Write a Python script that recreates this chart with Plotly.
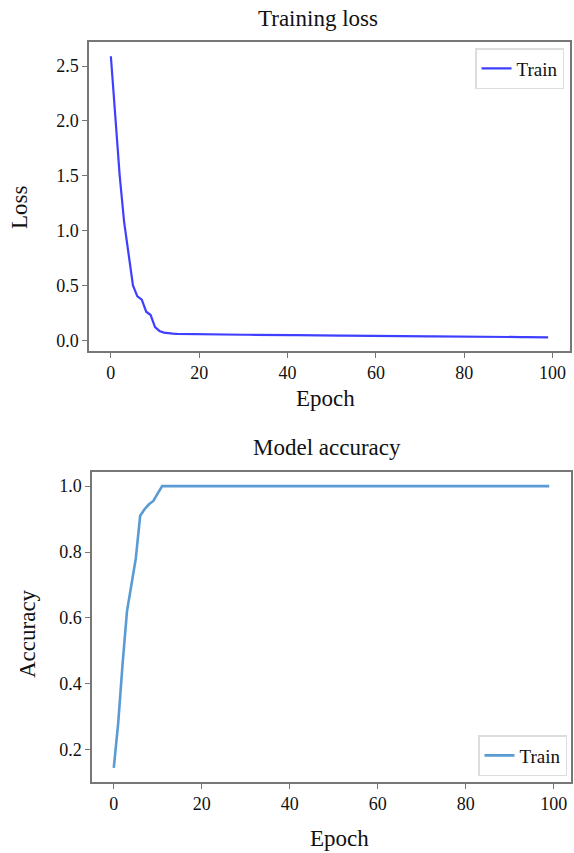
import plotly.graph_objects as go

epochs = list(range(100))

train_loss = [
    2.59, 2.07, 1.50, 1.08, 0.80, 0.50, 0.40, 0.37, 0.26, 0.23,
    0.12, 0.085, 0.070, 0.064, 0.061, 0.059, 0.058, 0.057, 0.056, 0.055,
    0.055, 0.055, 0.054, 0.054, 0.053, 0.053, 0.052, 0.052, 0.051, 0.051,
    0.050, 0.050, 0.049, 0.049, 0.049, 0.048, 0.048, 0.047, 0.047, 0.047,
    0.046, 0.046, 0.046, 0.045, 0.045, 0.045, 0.044, 0.044, 0.044, 0.043,
    0.043, 0.043, 0.042, 0.042, 0.042, 0.041, 0.041, 0.041, 0.040, 0.040,
    0.040, 0.039, 0.039, 0.039, 0.038, 0.038, 0.038, 0.037, 0.037, 0.037,
    0.036, 0.036, 0.036, 0.035, 0.035, 0.035, 0.034, 0.034, 0.034, 0.033,
    0.033, 0.033, 0.032, 0.032, 0.032, 0.031, 0.031, 0.031, 0.030, 0.030,
    0.030, 0.029, 0.029, 0.029, 0.028, 0.028, 0.028, 0.027, 0.027, 0.027,
]

train_acc = [
    0.145, 0.28, 0.46, 0.62, 0.70, 0.78, 0.91, 0.93, 0.945, 0.955,
    0.978, 1.0, 1.0, 1.0, 1.0, 1.0, 1.0, 1.0, 1.0, 1.0,
    1.0, 1.0, 1.0, 1.0, 1.0, 1.0, 1.0, 1.0, 1.0, 1.0,
    1.0, 1.0, 1.0, 1.0, 1.0, 1.0, 1.0, 1.0, 1.0, 1.0,
    1.0, 1.0, 1.0, 1.0, 1.0, 1.0, 1.0, 1.0, 1.0, 1.0,
    1.0, 1.0, 1.0, 1.0, 1.0, 1.0, 1.0, 1.0, 1.0, 1.0,
    1.0, 1.0, 1.0, 1.0, 1.0, 1.0, 1.0, 1.0, 1.0, 1.0,
    1.0, 1.0, 1.0, 1.0, 1.0, 1.0, 1.0, 1.0, 1.0, 1.0,
    1.0, 1.0, 1.0, 1.0, 1.0, 1.0, 1.0, 1.0, 1.0, 1.0,
    1.0, 1.0, 1.0, 1.0, 1.0, 1.0, 1.0, 1.0, 1.0, 1.0,
]

x_ticks = [0, 20, 40, 60, 80, 100]
loss_ticks = [0.0, 0.5, 1.0, 1.5, 2.0, 2.5]
acc_ticks = [0.2, 0.4, 0.6, 0.8, 1.0]

W, H = 574, 853
FONT = "Liberation Serif"

fig = go.Figure()
fig.add_trace(go.Scatter(x=epochs, y=train_loss, mode="lines", name="Train",
                         line=dict(color="#3f3fff", width=2.2),
                         xaxis="x", yaxis="y", legend="legend"))
fig.add_trace(go.Scatter(x=epochs, y=train_acc, mode="lines", name="Train",
                         line=dict(color="#5b9bd5", width=2.6),
                         xaxis="x2", yaxis="y2", legend="legend2"))

axstyle = dict(showline=True, mirror=True, linecolor="#777777", linewidth=1.5,
               ticks="outside", ticklen=5, tickwidth=1.2, tickcolor="#777777",
               showgrid=False, zeroline=False,
               tickfont=dict(family=FONT, size=18, color="#111111"))

fig.update_layout(
    width=W, height=H,
    margin=dict(l=0, r=0, t=0, b=0),
    paper_bgcolor="white", plot_bgcolor="white",
    font=dict(family=FONT, size=18, color="#111111"),
    xaxis=dict(domain=[89 / W, 570 / W], anchor="y", range=[-4.95, 103.95],
               tickvals=x_ticks, **axstyle),
    yaxis=dict(domain=[1 - 351 / H, 1 - 42 / H], anchor="x", range=[-0.098, 2.72],
               tickvals=loss_ticks, tickformat=".1f", **axstyle),
    xaxis2=dict(domain=[92 / W, 571 / W], anchor="y2", range=[-4.95, 103.95],
                tickvals=x_ticks, **axstyle),
    yaxis2=dict(domain=[1 - 782 / H, 1 - 472 / H], anchor="x2", range=[0.102, 1.043],
                tickvals=acc_ticks, tickformat=".1f", **axstyle),
    legend=dict(x=564 / W, y=1 - 48 / H, xanchor="right", yanchor="top",
                bgcolor="white", bordercolor="#dddddd", borderwidth=1.5,
                itemwidth=30, font=dict(family=FONT, size=19, color="#111111")),
    legend2=dict(x=567 / W, y=1 - 776 / H, xanchor="right", yanchor="bottom",
                 bgcolor="white", bordercolor="#dddddd", borderwidth=1.5,
                 itemwidth=30, font=dict(family=FONT, size=19, color="#111111")),
    showlegend=True,
)

def ann(text, x, y, size=23, angle=0):
    fig.add_annotation(text=text, x=x / W, y=1 - y / H, xref="paper", yref="paper",
                       showarrow=False, xanchor="center", yanchor="middle",
                       textangle=angle, font=dict(family=FONT, size=size, color="#111111"))

ann("Training loss", 318, 18)
ann("Epoch", 325, 398)
ann("Loss", 19, 207, angle=-90)
ann("Model accuracy", 327, 447)
ann("Epoch", 339, 838)
ann("Accuracy", 27, 634, angle=-90)

fig.write_html("out.html")
